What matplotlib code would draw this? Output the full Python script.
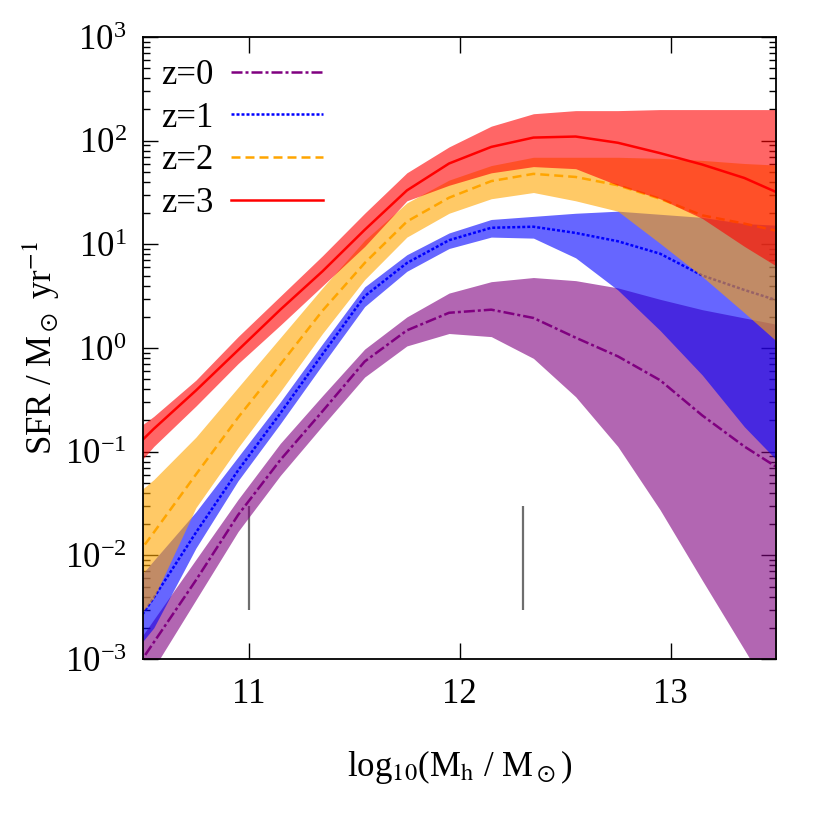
import numpy as np
import matplotlib
matplotlib.use('Agg')
import matplotlib.pyplot as plt
from matplotlib.lines import Line2D
from matplotlib.ticker import LogLocator, NullFormatter, FixedLocator

plt.rcParams['font.family'] = 'serif'
plt.rcParams['font.serif'] = ['Liberation Serif', 'DejaVu Serif']
plt.rcParams['mathtext.fontset'] = 'stix'

# halo mass grid, log10(Mh / Msun)
log_mh = [10.35, 10.55, 10.75, 10.95, 11.15, 11.35, 11.55, 11.75, 11.95,
          12.15, 12.35, 12.55, 12.75, 12.95, 13.15, 13.35, 13.55]

# log10(SFR) median and band edges, per redshift
z0_mid = [-3.44, -2.84, -2.24, -1.61, -1.08, -0.61, -0.13, 0.17, 0.34,
          0.37, 0.29, 0.10, -0.08, -0.31, -0.65, -0.95, -1.21]
z0_hi = [-3.20, -2.62, -2.04, -1.46, -0.92, -0.46, -0.01, 0.30, 0.53,
         0.64, 0.68, 0.65, 0.58, 0.47, 0.37, 0.29, 0.21]
z0_lo = [-3.68, -3.09, -2.43, -1.77, -1.23, -0.75, -0.28, 0.02, 0.14,
         0.11, -0.10, -0.47, -0.95, -1.56, -2.24, -2.91, -3.59]

z1_mid = [-3.01, -2.41, -1.78, -1.18, -0.63, -0.06, 0.50, 0.82, 1.04,
          1.16, 1.17, 1.11, 1.03, 0.91, 0.70, 0.56, 0.43]
z1_hi = [-2.53, -2.05, -1.58, -1.05, -0.52, 0.04, 0.59, 0.90, 1.11,
         1.24, 1.27, 1.30, 1.32, 1.29, 1.26, 1.20, 1.18]
z1_lo = [-3.20, -2.70, -1.93, -1.28, -0.73, -0.16, 0.40, 0.74, 0.96,
         1.07, 1.06, 0.87, 0.56, 0.17, -0.26, -0.76, -1.18]

z2_mid = [-2.33, -1.78, -1.22, -0.67, -0.16, 0.36, 0.82, 1.22, 1.45,
          1.61, 1.68, 1.65, 1.57, 1.44, 1.28, 1.20, 1.11]
z2_hi = [-1.61, -1.27, -0.86, -0.38, 0.10, 0.58, 1.04, 1.40, 1.62,
         1.76, 1.84, 1.84, 1.84, 1.83, 1.81, 1.78, 1.76]
z2_lo = [-2.91, -2.41, -1.54, -0.96, -0.42, 0.14, 0.66, 1.07, 1.30,
         1.44, 1.50, 1.42, 1.32, 1.01, 0.69, 0.34, -0.02]

z3_mid = [-1.18, -0.78, -0.41, -0.02, 0.37, 0.74, 1.14, 1.52, 1.78,
          1.94, 2.03, 2.04, 1.98, 1.88, 1.77, 1.64, 1.46]
z3_hi = [-0.96, -0.66, -0.31, 0.11, 0.50, 0.89, 1.30, 1.69, 1.94,
         2.14, 2.26, 2.29, 2.29, 2.30, 2.30, 2.30, 2.30]
z3_lo = [-1.42, -0.95, -0.56, -0.15, 0.22, 0.60, 0.98, 1.42, 1.57,
         1.69, 1.75, 1.73, 1.57, 1.44, 1.25, 0.98, 0.73]

labels = ['z=0', 'z=1', 'z=2', 'z=3']
colors = ['purple', 'blue', 'orange', 'red']
styles = [(0, (4.4, 1.2, 1.2, 1.2)), (0, (1.2, 0.8)), (0, (3.6, 2.0)), '-']

# the two short vertical bars
bar_x = [11.0, 12.3]
bar_lo, bar_hi = 0.003, 0.03


def main():
    mids = [z0_mid, z1_mid, z2_mid, z3_mid]
    his = [z0_hi, z1_hi, z2_hi, z3_hi]
    los = [z0_lo, z1_lo, z2_lo, z3_lo]
    x = np.array(log_mh)

    fig = plt.figure(figsize=(8.3, 8.3), dpi=100)
    ax = fig.add_axes([0.1725, 0.206, 0.935 - 0.1725, 0.9554 - 0.206])

    handles = []
    for i in range(4):
        zo = 3 + 0.2 * i
        # bands drawn over the axis ticks, like the original
        ax.fill_between(x, 10 ** np.array(los[i]), 10 ** np.array(his[i]),
                        color=colors[i], alpha=0.6, lw=0, zorder=zo)
        ax.plot(x, 10 ** np.array(mids[i]), color=colors[i],
                ls=styles[i], lw=1.8, zorder=zo + 0.1)
        handles.append(Line2D([], [], color=colors[i], ls=styles[i], lw=1.8))

    ax.vlines(bar_x, bar_lo, bar_hi, color='#6e6e6e', lw=1.6, zorder=2)

    ax.set_yscale('log')
    ax.set_xlim(10.5, 13.5)
    ax.set_ylim(1e-3, 1e3)
    ax.xaxis.set_major_locator(FixedLocator([11, 12, 13]))
    ax.yaxis.set_major_locator(LogLocator(base=10, numticks=10))
    ax.yaxis.set_minor_locator(LogLocator(base=10, subs=np.arange(2, 10), numticks=10))
    ax.yaxis.set_minor_formatter(NullFormatter())

    ax.tick_params(which='both', direction='in', top=True, right=True,
                   labelsize=25, width=1.0)
    ax.tick_params(axis='y', which='major', length=11, pad=12)
    ax.tick_params(axis='y', which='minor', length=5)
    ax.tick_params(axis='x', which='major', length=11.5, pad=14)

    for sp in ax.spines.values():
        sp.set_linewidth(1.3)
        sp.set_zorder(10)

    ax.set_xlabel(r'log$_{10}$(M$_{\rm h}$ / M$_\odot$)', fontsize=25, labelpad=26)
    ax.set_ylabel(r'SFR / M$_\odot$ yr$^{-1}$', fontsize=25, labelpad=2)

    ax.legend(handles, labels, loc='upper left', bbox_to_anchor=(0.028, 0.965),
              frameon=False, markerfirst=False, fontsize=25, handlelength=2.65,
              handletextpad=0.5, labelspacing=0.28, borderaxespad=0, borderpad=0)

    fig.savefig('out.png', dpi=100)


if __name__ == "__main__":
    main()
